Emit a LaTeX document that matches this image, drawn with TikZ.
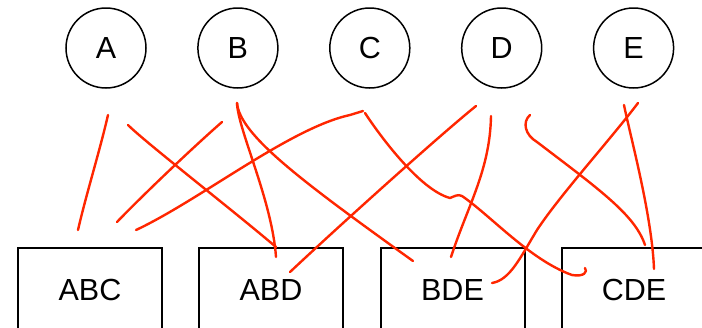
\documentclass[tikz,border=0pt]{standalone}
\usepackage{fontspec}
\setmainfont{Liberation Sans}
\definecolor{ink}{RGB}{255,38,0}
\tikzset{
  attr/.style={circle, draw=black, line width=1.5pt, minimum size=80pt, inner sep=0pt,
               font=\fontsize{30.5}{31}\selectfont},
  rel/.style={rectangle, draw=black, line width=2pt, minimum width=144pt, minimum height=84pt,
              inner sep=0pt, font=\fontsize{30.5}{31}\selectfont},
  link/.style={draw=ink, line width=2.4pt, line cap=round, line join=round}
}
\begin{document}
\begin{tikzpicture}[x=1pt, y=-1pt]
\useasboundingbox (0,0) rectangle (702,327);
\clip (0,0) rectangle (702,327);

% attributes
\node[attr] (A) at (106,48)   {A};
\node[attr] (B) at (237.9,48) {B};
\node[attr] (C) at (369.8,48) {C};
\node[attr] (D) at (501.7,48) {D};
\node[attr] (E) at (633.6,48) {E};

% relations
\node[rel] (ABC) at (90,290)  {ABC};
\node[rel] (ABD) at (271,290) {ABD};
\node[rel] (BDE) at (452.5,290) {BDE};
\node[rel] (CDE) at (634,290) {CDE};

% stroke end points
\coordinate (a1) at (108,115);  \coordinate (abc1) at (78,230);
\coordinate (a2) at (128,125);  \coordinate (abd1) at (276,247);
\coordinate (b1) at (222,122);  \coordinate (abc2) at (117,222);
\coordinate (c1) at (363,111);  \coordinate (abc3) at (136,230);
\coordinate (b2) at (237,103);  \coordinate (abd2) at (276,257);
\coordinate (bde1) at (413,261);
\coordinate (d1) at (476,106);  \coordinate (abd3) at (290,272);
\coordinate (c2) at (365,113);  \coordinate (cde1) at (585,268);
\coordinate (d2) at (491,116);  \coordinate (bde2) at (451,257);
\coordinate (e1) at (638,103);  \coordinate (bde3) at (492,283);
\coordinate (d3) at (530,115);  \coordinate (cde2) at (645,245);
\coordinate (e2) at (624,105);  \coordinate (cde3) at (654,269);

% hand-drawn links
\draw[link] (a1) .. controls (100,150) and (86,195) .. (abc1);
\draw[link] (a2) .. controls (145,142) and (230,208) .. (abd1);
\draw[link] (b1) .. controls (190,150) and (140,198) .. (abc2);
\draw[link] (c1) -- (350,115) .. controls (290,128) and (200,200) .. (abc3);
\draw[link] (b2) .. controls (238,130) and (272,200) .. (abd2);
\draw[link] (b2) .. controls (240,135) and (300,180) .. (bde1);
\draw[link] (d1) .. controls (440,135) and (340,225) .. (abd3);
\draw[link] (c2) .. controls (380,136) and (420,190) .. (450,198)
                 .. controls (455,196) and (458,194) .. (462,196)
                 .. controls (490,215) and (530,260) .. (572,275)
                 .. controls (584,277) and (588,272) .. (cde1);
\draw[link] (d2) .. controls (490,170) and (468,205) .. (bde2);
\draw[link] (e1) .. controls (610,140) and (560,195) .. (537,230)
                 .. controls (520,258) and (510,280) .. (bde3);
\draw[link] (d3) .. controls (522,122) and (525,135) .. (537,142)
                 .. controls (600,190) and (635,215) .. (cde2);
\draw[link] (e2) .. controls (630,135) and (652,215) .. (cde3);
\end{tikzpicture}
\end{document}
